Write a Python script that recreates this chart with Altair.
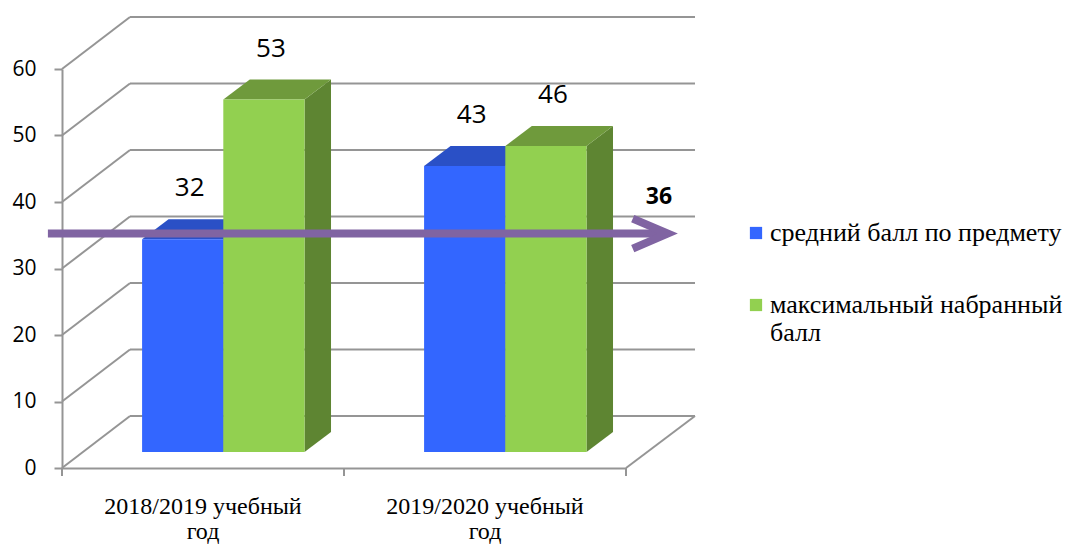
import altair as alt
import pandas as pd

# ---------------- data ----------------
categories = ["2018/2019 учебный год", "2019/2020 учебный год"]
series = ["средний балл по предмету", "максимальный набранный балл"]
avg_scores = [32, 43]
max_scores = [53, 46]
threshold = 36
y_ticks = [0, 10, 20, 30, 40, 50, 60]

# ---------------- styling ----------------
front_colors = ["#3366FF", "#92D050"]
top_colors = ["#2A50C6", "#6F9A3C"]
side_colors = ["#2442A8", "#5E8532"]
grid_color = "#959595"
arrow_color = "#8064A2"
sans = "Open Sans, Noto Sans, DejaVu Sans, sans-serif"
serif = "Liberation Serif, Times New Roman, DejaVu Serif, serif"

W, H = 564, 399
PX_X = W / 2.0          # pixels per x unit
PX_Y = H / 60.0         # pixels per y unit
BAR_W = 0.288           # bar width in x units
SPLIT = 0.072           # boundary between the two bars, relative to category centre
DX = 26.5 / PX_X        # 3-D depth (x units)
DY = 20.0 / PX_Y        # 3-D depth (y units)
BAR_SHIFT = -16         # bars stand slightly behind the front axis (px)
WALL = 52               # back wall offset (px up)
WALL_X = 68 / PX_X

values = [avg_scores, max_scores]

front_rows, face_rows, label_rows = [], [], []
for i, cat in enumerate(categories):
    c = i + 0.5
    for j, s in enumerate(series):
        v = values[j][i]
        x0 = c + SPLIT + (j - 1) * BAR_W
        x1 = x0 + BAR_W
        front_rows.append(dict(cat=cat, series=s, x0=x0, x1=x1, v=v, base=0))
        label_rows.append(dict(x=(x0 + x1) / 2, v=v, txt=str(v)))
        fid = f"{i}-{j}"
        for xx, yy, yy2 in [(x1, v, 0), (x1 + DX, v + DY, DY)]:
            face_rows.append(dict(face="s" + fid, kind=f"side{j}", x=xx, y=yy, y2=yy2))
        for xx, yy, yy2 in [(x0, v, v), (x0 + DX, v + DY, v), (x1, v + DY, v), (x1 + DX, v + DY, v + DY)]:
            face_rows.append(dict(face="t" + fid, kind=f"top{j}", x=xx, y=yy, y2=yy2))

fronts = pd.DataFrame(front_rows)
faces = pd.DataFrame(face_rows)
labels = pd.DataFrame(label_rows)
grid = pd.DataFrame({"v": y_ticks})
cat_df = pd.DataFrame({
    "x": [i + 0.5 for i in range(len(categories))],
    "txt": [c.rsplit(" ", 1)[0] + "\n" + c.rsplit(" ", 1)[1] for c in categories],
})
thr_df = pd.DataFrame({"v": [threshold], "x0": [-0.05], "x1": [2.125], "xt": [2.148],
                       "xl": [2.117], "txt": [str(threshold)]})

xs = alt.Scale(domain=[0, 2], nice=False, zero=False)
ys = alt.Scale(domain=[0, 60], nice=False)

# ---------------- back wall / side wall ----------------
back_grid = alt.Chart(grid).mark_rule(color=grid_color, strokeWidth=2, yOffset=-WALL, y2Offset=-WALL).encode(
    x=alt.X("x0:Q", scale=xs), x2="x1:Q", y=alt.Y("v:Q", scale=ys), y2="v:Q"
).transform_calculate(x0=str(WALL_X), x1=str(2 + 69 / PX_X))

left_wall = alt.Chart(grid).mark_rule(color=grid_color, strokeWidth=2, y2Offset=-WALL).encode(
    x=alt.X("x0:Q", scale=xs), x2="x1:Q", y=alt.Y("v:Q", scale=ys), y2="v:Q"
).transform_calculate(x0="0", x1=str(WALL_X))

floor_right = alt.Chart(pd.DataFrame({"v": [0]})).mark_rule(color=grid_color, strokeWidth=2, y2Offset=-WALL).encode(
    x=alt.X("x0:Q", scale=xs), x2="x1:Q", y=alt.Y("v:Q", scale=ys), y2="v:Q"
).transform_calculate(x0="2", x1=str(2 + 69 / PX_X))

x_ticks = alt.Chart(pd.DataFrame({"x": [0, 1, 2]})).mark_rule(color=grid_color, strokeWidth=2, y2Offset=8).encode(
    x=alt.X("x:Q", scale=xs), y=alt.datum(0, scale=ys), y2=alt.datum(0)
)

# ---------------- 3-D bars ----------------
def face_layer(kind, col):
    return alt.Chart(faces).transform_filter(alt.datum.kind == kind).mark_area(
        orient="vertical", yOffset=BAR_SHIFT, y2Offset=BAR_SHIFT, color=col, opacity=1, interpolate="linear"
    ).encode(
        x=alt.X("x:Q", scale=xs),
        y=alt.Y("y:Q", scale=ys),
        y2="y2:Q",
        detail="face:N",
    )

faces_layers = [face_layer(f"side{j}", side_colors[j]) for j in range(2)] + \
               [face_layer(f"top{j}", top_colors[j]) for j in range(2)]

front_layer = alt.Chart(fronts).mark_rect(yOffset=BAR_SHIFT, y2Offset=BAR_SHIFT).encode(
    x=alt.X("x0:Q", scale=xs,
            axis=alt.Axis(values=[0, 1, 2], labels=False, ticks=False, grid=False, title=None,
                          domainColor=grid_color, domainWidth=2)),
    x2="x1:Q",
    y=alt.Y("v:Q", scale=ys,
            axis=alt.Axis(values=y_ticks, grid=False, title=None, domainColor=grid_color, domainWidth=2,
                          tickColor=grid_color, tickWidth=2, tickSize=8, labelPadding=18,
                          labelFont=sans, labelFontSize=21, labelColor="#000000")),
    y2="base:Q",
    color=alt.Color("series:N", scale=alt.Scale(domain=series, range=front_colors),
                    legend=alt.Legend(
                        title=None, orient="none", legendX=681, legendY=151,
                        symbolType="square", symbolSize=150, symbolStrokeWidth=0,
                        labelFont=serif, labelFontSize=26, labelColor="#000000",
                        labelLimit=400, labelOffset=1, rowPadding=46, padding=0,
                        labelExpr="length(datum.label) > 25 ? [slice(datum.label, 0, lastindexof(datum.label, ' ')), slice(datum.label, lastindexof(datum.label, ' ') + 1)] : datum.label",
                    )),
)

value_labels = alt.Chart(labels).mark_text(font=sans, fontSize=26, color="#000000", dy=BAR_SHIFT - 51, dx=7).encode(
    x=alt.X("x:Q", scale=xs), y=alt.Y("v:Q", scale=ys), text="txt:N"
)

# ---------------- threshold arrow ----------------
thr_line = alt.Chart(thr_df).mark_rule(color=arrow_color, strokeWidth=8, yOffset=5, y2Offset=5).encode(
    x=alt.X("x0:Q", scale=xs), x2="x1:Q", y=alt.Y("v:Q", scale=ys), y2="v:Q"
)
thr_head = alt.Chart(thr_df).mark_point(shape="M-1,-0.43L0,0L-1,0.43", filled=False, color=arrow_color,
                                        strokeWidth=8, size=4900, opacity=1, yOffset=5,
                                        strokeJoin="miter").encode(
    x=alt.X("xt:Q", scale=xs), y=alt.Y("v:Q", scale=ys)
)
thr_label = alt.Chart(thr_df).mark_text(font=sans, fontSize=23, fontWeight="bold", color="#000000", dy=-32).encode(
    x=alt.X("xl:Q", scale=xs), y=alt.Y("v:Q", scale=ys), text="txt:N"
)

# ---------------- category labels ----------------
cat_labels = alt.Chart(cat_df).mark_text(font=serif, fontSize=24, color="#000000", baseline="top",
                                         lineBreak="\n", lineHeight=24.5, dy=27).encode(
    x=alt.X("x:Q", scale=xs), y=alt.datum(0, scale=ys), text="txt:N"
)

chart = alt.layer(
    back_grid, left_wall, floor_right, x_ticks,
    *faces_layers, front_layer, value_labels,
    thr_line, thr_head, thr_label, cat_labels,
).properties(
    width=W, height=H,
    background="white",
    autosize=alt.AutoSizeParams(type="none"),
    padding={"left": 54, "top": 61, "right": 438, "bottom": 77},
).configure_view(strokeWidth=0, stroke="transparent")

chart.save("out.html", embed_options={"renderer": "svg", "actions": False})
